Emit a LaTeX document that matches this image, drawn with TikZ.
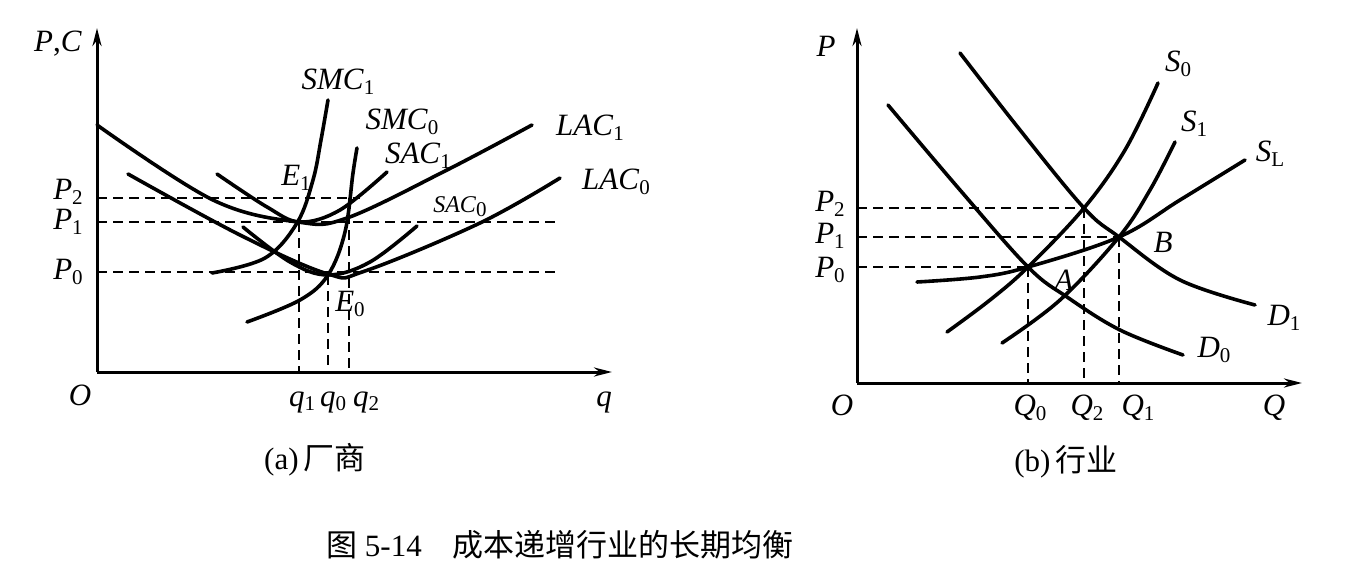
\documentclass[tikz,border=0pt]{standalone}
\usetikzlibrary{arrows.meta}
\usepackage{fontspec}
\setmainfont{Liberation Serif}
\newfontfamily\cjk{Noto Sans CJK SC}
\newcommand{\lb}[2]{\textit{#1}\raisebox{-0.35ex}{\fontsize{21}{23}\selectfont #2}}
\begin{document}
\begin{tikzpicture}[x=1pt,y=-1pt,
  curve/.style={line width=3.6pt,line cap=round},
  ax/.style={line width=3pt,-{Stealth[length=18pt,width=9pt]}},
  dsh/.style={line width=2.4pt,dash pattern=on 10pt off 6pt},
  lbl/.style={font=\fontsize{31}{34}\selectfont,inner sep=0pt}]
\useasboundingbox (0,0) rectangle (1368,578);
% ---------- panel (a)
\coordinate (Oa) at (97,372);
\draw[ax] (Oa) -- (97,28);
\draw[ax] (Oa) -- (612,372);
\draw[dsh] (97,198) -- (360,198);
\draw[dsh] (97,222) -- (555,222);
\draw[dsh] (97,272) -- (555,272);
\draw[dsh] (299,222) -- (299,372);
\draw[dsh] (328,275) -- (328,372);
\draw[dsh] (349,198) -- (349,372);
\draw[curve] plot[smooth,tension=0.6] coordinates {(97,125) (213,200) (298,222) (347,218) (447,170) (532,125)};
\draw[curve] plot[smooth,tension=0.6] coordinates {(128,174) (240,235) (328,274) (365,271) (480,223) (560,178)};
\draw[curve] plot[smooth,tension=0.6] coordinates {(217,174) (267,207) (300,222) (340,210) (387,172)};
\draw[curve] plot[smooth,tension=0.6] coordinates {(243,227) (290,262) (328,275) (370,262) (417,226)};
\draw[curve] plot[smooth,tension=0.6] coordinates {(212,273) (265,258) (297,223) (313,180) (321,140) (328,100)};
\draw[curve] plot[smooth,tension=0.6] coordinates {(247,322) (300,300) (328,275) (345,232) (353,173) (357,148)};
\node[lbl] (smc1) at (338,82) {\lb{SMC}{1}};
\node[lbl] (smc0) at (402,122) {\lb{SMC}{0}};
\node[lbl] (sac1) at (418,156) {\lb{SAC}{1}};
\node[lbl] (lac1) at (590,128) {\lb{LAC}{1}};
\node[lbl] (lac0) at (616,182) {\lb{LAC}{0}};
\node[lbl,font=\fontsize{24}{26}\selectfont] (sac0) at (460,207) {\lb{SAC}{0}};
\node[lbl] (e1) at (296,178) {\lb{E}{1}};
\node[lbl] (e0) at (350,304) {\lb{E}{0}};
\node[lbl] (p2a) at (68,192) {\lb{P}{2}};
\node[lbl] (p1a) at (68,222) {\lb{P}{1}};
\node[lbl] (p0a) at (68,272) {\lb{P}{0}};
\node[lbl] (pca) at (58,44) {\textit{P},\textit{C}};
\node[lbl] (oa) at (80,395) {\textit{O}};
\node[lbl] (qa) at (604,402) {\textit{q}};
\node[lbl] (q1) at (302,402) {\lb{q}{1}};
\node[lbl] (q0) at (333,402) {\lb{q}{0}};
\node[lbl] (q2) at (366,402) {\lb{q}{2}};
\node[lbl] (capa) at (315,460) {(a)\,{\cjk 厂商}};
% ---------- panel (b)
\coordinate (Ob) at (857,383);
\draw[ax] (Ob) -- (857,28);
\draw[ax] (Ob) -- (1302,383);
\draw[dsh] (857,208) -- (1084,208);
\draw[dsh] (857,237) -- (1119,237);
\draw[dsh] (857,267) -- (1028,267);
\draw[dsh] (1028,267) -- (1028,383);
\draw[dsh] (1084,208) -- (1084,383);
\draw[dsh] (1119,237) -- (1119,383);
\draw[curve] plot[smooth,tension=0.6] coordinates {(960,53) (1020,130) (1084,208) (1119,237) (1180,280) (1255,305)};
\draw[curve] plot[smooth,tension=0.6] coordinates {(888,105) (960,190) (1028,267) (1067,297) (1120,330) (1183,355)};
\draw[curve] plot[smooth,tension=0.6] coordinates {(947,332) (990,300) (1028,267) (1084,208) (1125,150) (1158,83)};
\draw[curve] plot[smooth,tension=0.6] coordinates {(1002,343) (1060,300) (1119,237) (1150,190) (1175,142)};
\draw[curve] plot[smooth,tension=0.6] coordinates {(917,282) (980,277) (1028,267) (1119,237) (1180,200) (1245,160)};
\node[lbl] (s0) at (1178,64) {\lb{S}{0}};
\node[lbl] (s1) at (1194,124) {\lb{S}{1}};
\node[lbl] (sl) at (1270,154) {\lb{S}{L}};
\node[lbl] (d1) at (1284,318) {\lb{D}{1}};
\node[lbl] (d0) at (1214,350) {\lb{D}{0}};
\node[lbl] (a) at (1064,280) {\textit{A}};
\node[lbl] (b) at (1163,242) {\textit{B}};
\node[lbl] (pb) at (826,46) {\textit{P}};
\node[lbl] (p2b) at (830,204) {\lb{P}{2}};
\node[lbl] (p1b) at (830,236) {\lb{P}{1}};
\node[lbl] (p0b) at (830,270) {\lb{P}{0}};
\node[lbl] (ob) at (842,405) {\textit{O}};
\node[lbl] (q0b) at (1030,408) {\lb{Q}{0}};
\node[lbl] (q2b) at (1087,408) {\lb{Q}{2}};
\node[lbl] (q1b) at (1138,408) {\lb{Q}{1}};
\node[lbl] (qb) at (1274,408) {\textit{Q}};
\node[lbl] (capb) at (1066,462) {(b)\,{\cjk 行业}};
\node[lbl,font=\fontsize{31}{34}\selectfont] (fig) at (560,545) {{\cjk 图}\ 5-14\quad{\cjk 成本递增行业的长期均衡}};
\end{tikzpicture}
\end{document}
